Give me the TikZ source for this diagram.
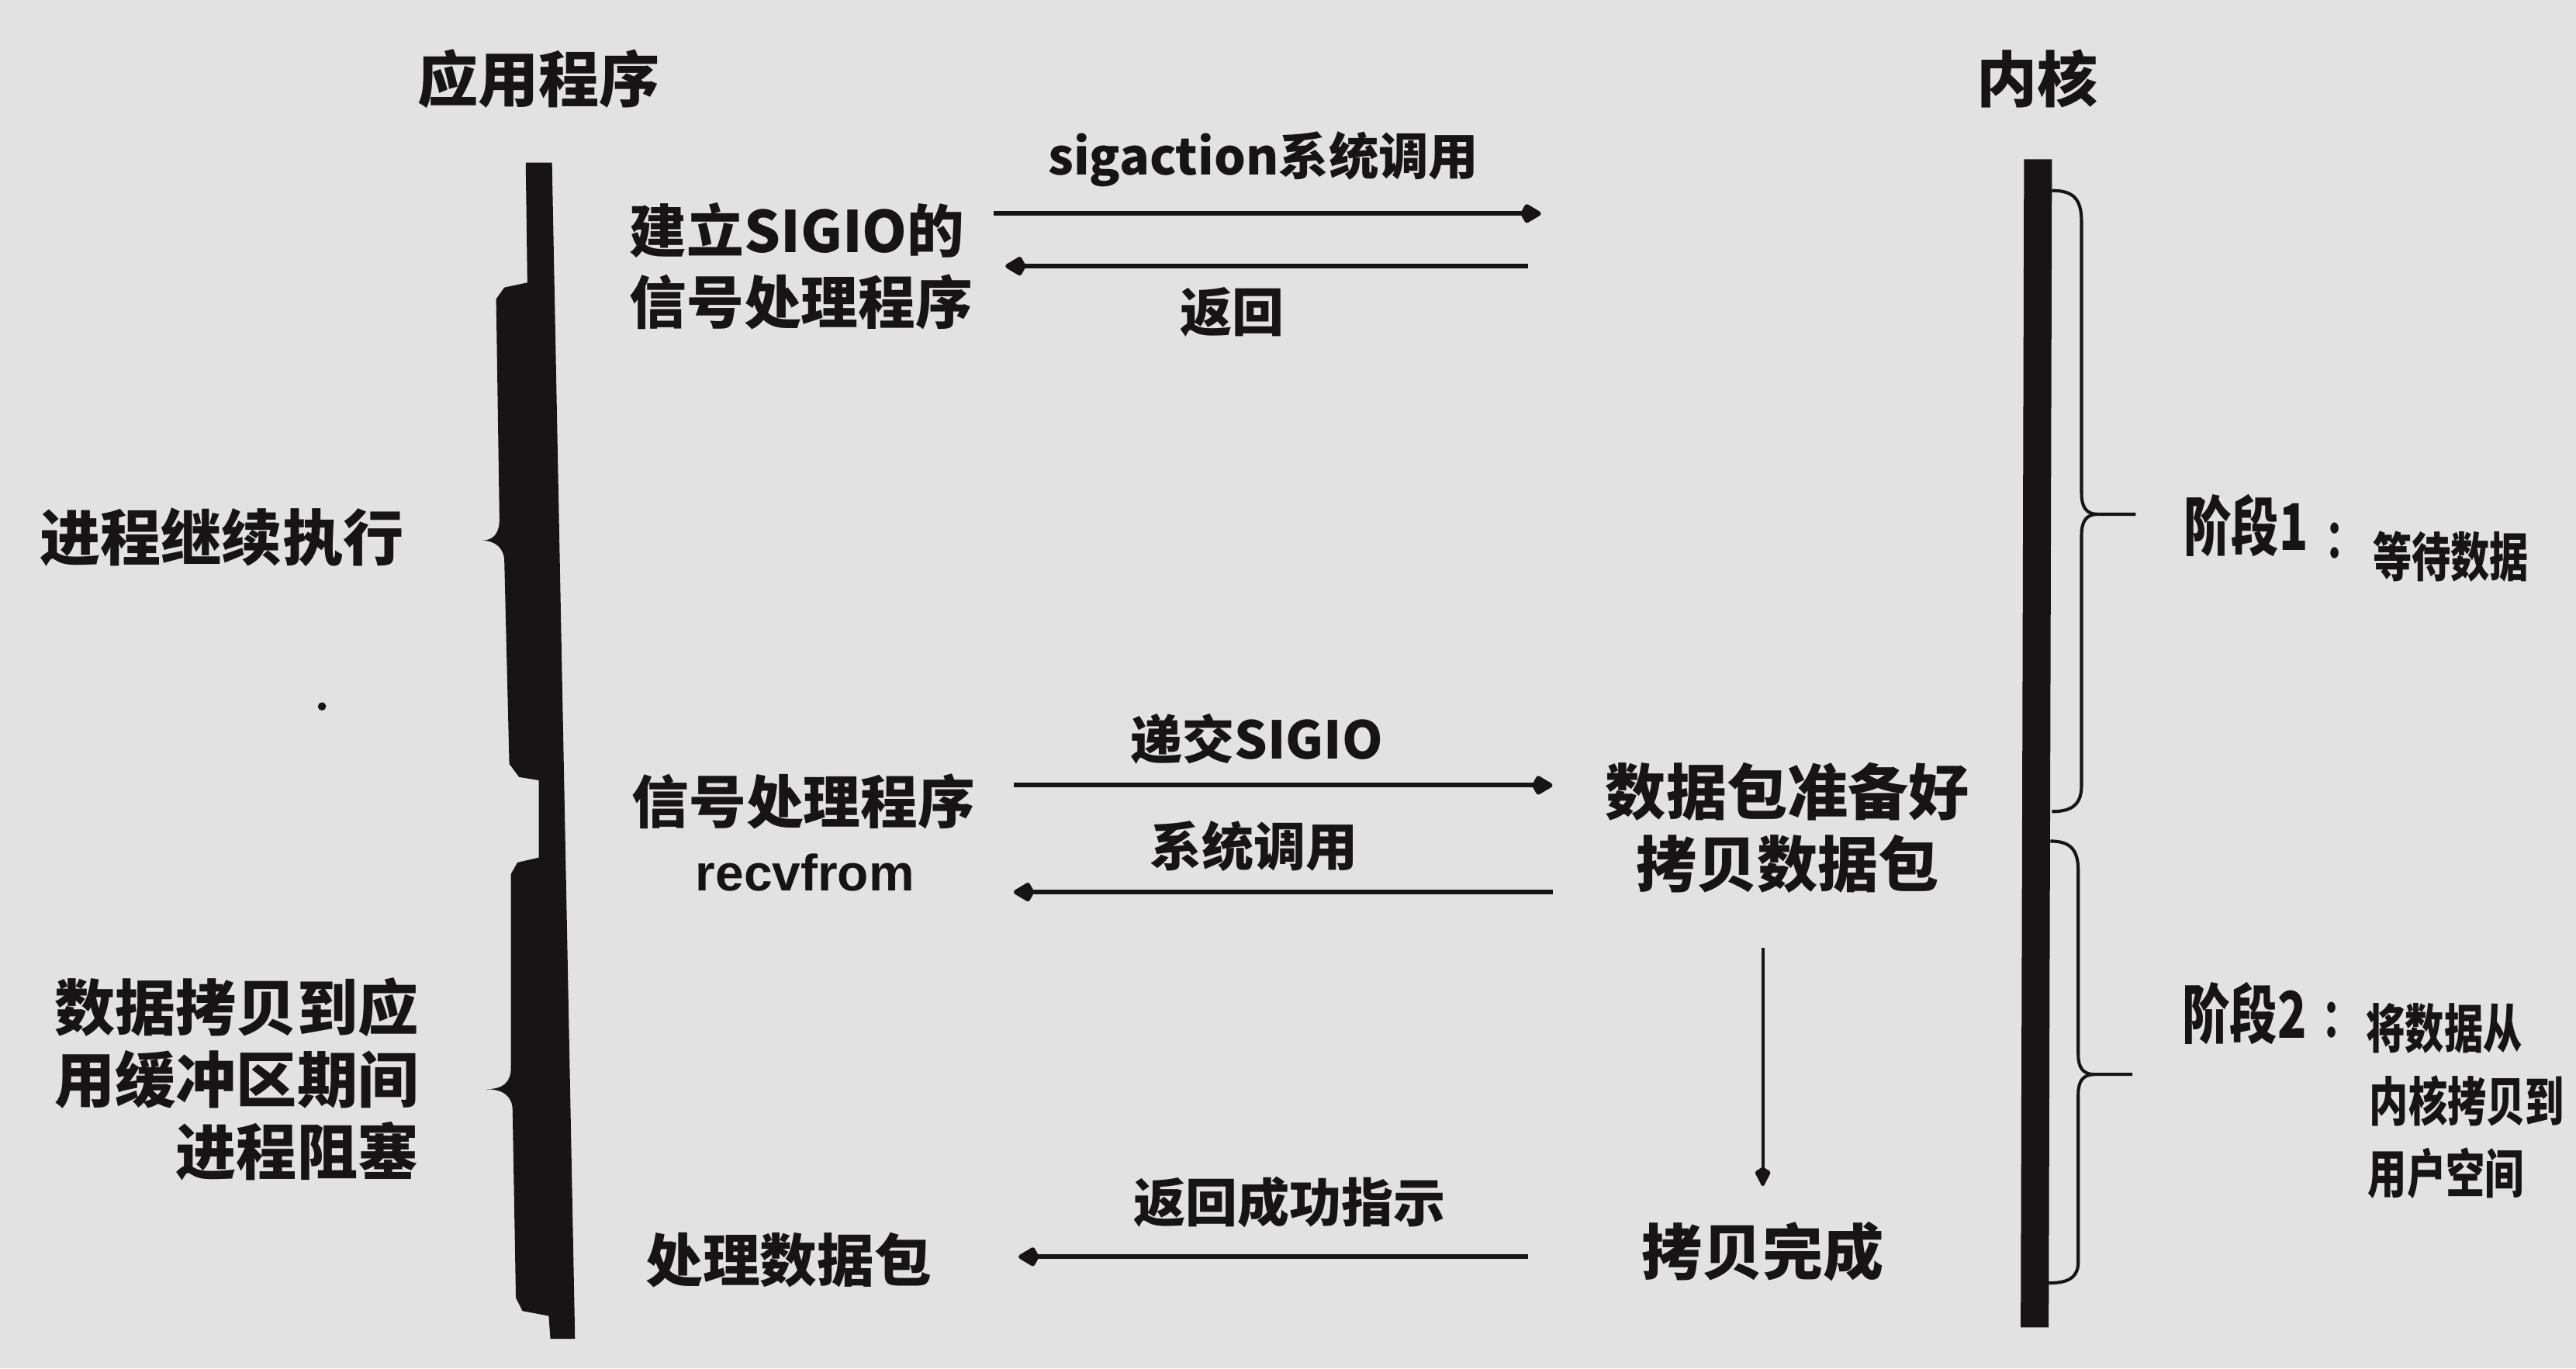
\documentclass[tikz,border=0pt]{standalone}
\usepackage{fontspec}
\setmainfont{Noto Sans CJK SC}
\newfontfamily\latfont{Liberation Sans}
\usetikzlibrary{arrows.meta}
\definecolor{bg}{RGB}{226,226,226}
\definecolor{ink}{RGB}{22,20,20}
\newcommand{\tallify}[1]{\scalebox{1}[1.35]{#1}}
\begin{document}
\begin{tikzpicture}[x=0.02cm,y=-0.02cm,
  big/.style={inner sep=0pt,text=ink,font=\bfseries\fontsize{21pt}{25pt}\selectfont},
  mid/.style={inner sep=0pt,text=ink,font=\bfseries\fontsize{19.8pt}{24.5pt}\selectfont},
  lab/.style={inner sep=0pt,text=ink,font=\bfseries\fontsize{18pt}{22pt}\selectfont},
  small/.style={inner sep=0pt,text=ink,font=\bfseries\fontsize{13.5pt}{18pt}\selectfont},
  stage/.style={inner sep=0pt,text=ink,font=\bfseries\fontsize{16.5pt}{20pt}\selectfont},
  conn/.style={draw=ink,line width=1.6pt,-{Kite[length=0.28cm,width=0.25cm,round]}},
  vconn/.style={draw=ink,line width=1.1pt,-{Kite[length=0.26cm,width=0.2cm,round]}},
  brc/.style={draw=ink,line width=1.1pt}]
\useasboundingbox (0,0) rectangle (1568,833);
\fill[bg] (0,0) rectangle (1568,833);

% titles
\node[big] (tapp) at (328,48) {应用程序};
\node[big] (tker) at (1240,48) {内核};

% left (application) bar
\fill[ink] (320,99) -- (336,99) -- (350,815) -- (335,815) -- (334,801)
  -- (318,798) -- (314,790) -- (312,676)
  .. controls (312,667) and (306,663) .. (296,663)
  .. controls (306,663) and (311,659) .. (311,650)
  -- (311,532) -- (315,525) -- (328,522) -- (328,475) -- (316,473) -- (310,465)
  -- (307,342) .. controls (307,334) and (302,329) .. (293,329)
  .. controls (301,329) and (304,324) .. (304,316)
  -- (302,182) -- (307,175) -- (321,172) -- cycle;

% right (kernel) bar
\fill[ink] (1232,97) -- (1249,97) -- (1247,808) -- (1230,808) -- cycle;

% right braces
\draw[brc] (1249,116) .. controls (1262,116) and (1267,121) .. (1267,135)
  -- (1267,300) .. controls (1267,309) and (1270,313) .. (1277,313) -- (1300,313);
\draw[brc] (1277,313) .. controls (1270,313) and (1267,317) .. (1267,326)
  -- (1267,478) .. controls (1267,489) and (1262,494) .. (1249,494);
\draw[brc] (1248,512) .. controls (1260,512) and (1265,517) .. (1265,530)
  -- (1265,642) .. controls (1265,650) and (1268,654) .. (1275,654) -- (1298,654);
\draw[brc] (1275,654) .. controls (1268,654) and (1265,658) .. (1265,666)
  -- (1265,768) .. controls (1265,777) and (1260,781) .. (1247,781);

% left labels
\node[big] (cont) at (135,327) {进程继续执行};
\node[big,align=right,anchor=east] (block) at (255,657) {数据拷贝到应\\用缓冲区期间\\进程阻塞};
\fill[ink] (196,430) circle (2.5);

% right labels
\node[stage,anchor=west] (st1a) at (1329,320) {\tallify{阶段1}};
\node[small] (st1c) at (1427,329) {\tallify{：}};
\node[small,anchor=west] (st1b) at (1444,339) {\tallify{等待数据}};
\node[stage,anchor=west] (st2a) at (1328,617) {\tallify{阶段2}};
\node[small] (st2c) at (1425,621) {\tallify{：}};
\node[small,anchor=west] (st2b) at (1440,626) {\tallify{将数据从}};
\node[small,anchor=west] (st2d) at (1442,670) {\tallify{内核拷贝到}};
\node[small,anchor=west] (st2e) at (1441,714) {\tallify{用户空间}};

% application side texts
\node[mid,anchor=west,align=left] (setup) at (383,162) {建立SIGIO的\\信号处理程序};
\node[mid] (handler) at (489,488) {信号处理程序};
\node[inner sep=0pt,text=ink,font=\latfont\bfseries\fontsize{17.7pt}{22pt}\selectfont] (recv) at (490,531) {recvfrom};
\node[mid] (proc) at (480,767) {处理数据包};

% kernel side texts
\node[big,align=center] (ready) at (1088,504) {数据包准备好\\拷贝数据包};
\node[big] (done) at (1073,762) {拷贝完成};

% arrow end points
\coordinate (a1s) at (605,130); \coordinate (a1e) at (938,130);
\coordinate (a2s) at (930,162); \coordinate (a2e) at (612,162);
\coordinate (a3s) at (617,478); \coordinate (a3e) at (945,478);
\coordinate (a4s) at (945,543); \coordinate (a4e) at (617,543);
\coordinate (a5s) at (930,765); \coordinate (a5e) at (620,765);
\coordinate (vs) at (1073,577); \coordinate (ve) at (1073,722);

\draw[conn] (a1s) -- (a1e);
\draw[conn] (a2s) -- (a2e);
\draw[conn] (a3s) -- (a3e);
\draw[conn] (a4s) -- (a4e);
\draw[conn] (a5s) -- (a5e);
\draw[vconn] (vs) -- (ve);

% arrow labels
\node[lab,font=\bfseries\fontsize{17.3pt}{21pt}\selectfont] (l1) at (769,97) {sigaction系统调用};
\node[lab] (l2) at (750,190) {返回};
\node[lab] (l3) at (765,450) {递交SIGIO};
\node[lab] (l4) at (763,515) {系统调用};
\node[lab] (l5) at (785,732) {返回成功指示};
\end{tikzpicture}
\end{document}
